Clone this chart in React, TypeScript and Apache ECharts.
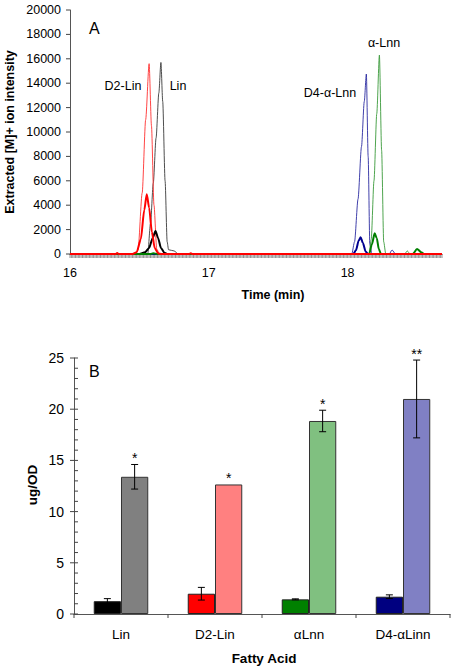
import React, { useEffect, useRef } from 'react';
import * as echarts from 'echarts';

// ---------- Panel A: extracted ion chromatograms (time in min, intensity) ----------
const timeRange = [16, 18.68];
const timeLabelStep = 1;
const timeMinorStep = 0.01;
const intensityMax = 20000;
const intensityStep = 2000;

const linThin = [
  [16, 0], [16.56, 0], [16.58, 2500], [16.6, 5800], [16.62, 9500], [16.64, 13200],
  [16.655, 15700], [16.668, 12500], [16.685, 6000], [16.7, 1000], [16.71, 350],
  [16.75, 250], [16.78, 0], [18.68, 0],
];
const d2LinThin = [
  [16, 0], [16.47, 0], [16.49, 300], [16.52, 5000], [16.545, 11000], [16.57, 15600],
  [16.587, 10500], [16.605, 4000], [16.625, 400], [16.645, 0], [18.68, 0],
];
const d4LnnThin = [
  [16, 0], [18.03, 0], [18.05, 1000], [18.075, 4500], [18.1, 8800], [18.12, 12500],
  [18.135, 14750], [18.148, 8000], [18.16, 800], [18.175, 0], [18.3, 0], [18.32, 330],
  [18.345, 0], [18.68, 0],
];
const lnnThin = [
  [16, 0], [18.155, 0], [18.17, 1200], [18.19, 6000], [18.21, 11500], [18.229, 16300],
  [18.245, 8500], [18.26, 1000], [18.275, 0], [18.41, 0], [18.43, 250], [18.45, 0], [18.68, 0],
];
const linThick = [
  [16, 0], [16.5, 0], [16.54, 150], [16.57, 500], [16.595, 1300], [16.616, 1880],
  [16.635, 1300], [16.655, 500], [16.68, 100], [16.7, 0], [18.68, 0],
];
const d4LnnThick = [
  [16, 0], [18.04, 0], [18.06, 300], [18.08, 1100], [18.094, 1370], [18.11, 900],
  [18.13, 200], [18.148, 0], [18.68, 0],
];
const lnnThick = [
  [16, 0], [16.58, 0], [16.6, 60], [16.63, 0], [18.155, 0], [18.175, 800], [18.195, 1700],
  [18.21, 1300], [18.225, 400], [18.24, 0], [18.47, 0], [18.5, 420], [18.53, 150],
  [18.55, 0], [18.68, 0],
];
const d2LinThick = [
  [16, 0], [16.33, 0], [16.34, 80], [16.35, 0], [16.45, 0], [16.48, 150], [16.51, 1200],
  [16.535, 3600], [16.553, 4900], [16.57, 3800], [16.59, 1800], [16.61, 500], [16.635, 50],
  [16.66, 0], [16.86, 0], [16.87, 70], [16.88, 0], [18.68, 0],
];

// ---------- Panel B: fatty acid amounts (ug/OD) ----------
const categories = ['Lin', 'D2-Lin', 'αLnn', 'D4-αLinn'];
const controlValues = [1.25, 1.98, 1.43, 1.69];
const controlErrors = [0.25, 0.62, 0.05, 0.18];
const treatedValues = [13.4, 12.65, 18.85, 21.0];
const treatedErrors = [1.2, 0, 1.05, 3.8];
const significance = ['*', '*', '*', '**'];
const controlColors = ['#000000', '#ff0000', '#008000', '#000080'];
const treatedColors = ['#808080', '#ff8080', '#80c080', '#8080c4'];
const amountMax = 25;
const amountLabelStep = 5;
const amountMinorStep = 1;

const FONT = 'Liberation Sans, Arial, sans-serif';
const BAR_FRACTION = 0.29;
const AXIS_COLOR = '#555';
const TICK_COLOR = '#444';

export default function App() {
  const ref = useRef<HTMLDivElement>(null);

  useEffect(() => {
    if (!ref.current) return;
    const chart = echarts.init(ref.current, undefined, { renderer: 'svg' });

    const lineSeries = (name: string, data: number[][], color: string, width: number) => ({
      type: 'line',
      name,
      xAxisIndex: 0,
      yAxisIndex: 0,
      data,
      symbol: 'none',
      smooth: 0.25,
      smoothMonotone: 'x',
      lineStyle: { color, width },
      silent: true,
    });

    const errorData = categories.flatMap((_, i) => [
      [i, controlValues[i], controlErrors[i], 0],
      [i, treatedValues[i], treatedErrors[i], 1],
    ]);

    const txt = (text: string, x: number, y: number, font: string, rotation = 0) => ({
      type: 'text',
      x,
      y,
      rotation,
      style: { text, font, fill: '#000', align: 'center', verticalAlign: 'middle' },
    });

    const tickLine = (x1: number, y1: number, x2: number, y2: number, w = 1) => ({
      type: 'line',
      shape: { x1, y1, x2, y2 },
      style: { stroke: TICK_COLOR, lineWidth: w },
      silent: true,
    });

    const option: any = {
      animation: false,
      backgroundColor: '#ffffff',
      textStyle: { fontFamily: FONT, color: '#000' },
      grid: [
        { left: 70, top: 10, width: 372, height: 244, containLabel: false, outerBoundsMode: 'none' },
        { left: 74, top: 358, width: 376, height: 256, containLabel: false, outerBoundsMode: 'none' },
      ],
      xAxis: [
        {
          type: 'value',
          gridIndex: 0,
          position: 'bottom',
          min: timeRange[0],
          max: timeRange[1],
          interval: timeLabelStep,
          axisLine: { lineStyle: { color: AXIS_COLOR, width: 1 } },
          axisTick: { show: false },
          axisLabel: { fontSize: 12.5, color: '#000', margin: 12, showMaxLabel: false },
          splitLine: { show: false },
        },
        {
          type: 'category',
          gridIndex: 1,
          data: categories,
          axisLine: { lineStyle: { color: AXIS_COLOR, width: 1 } },
          axisTick: { show: false },
          axisLabel: { fontSize: 13.5, color: '#000', margin: 13 },
        },
      ],
      yAxis: [
        {
          type: 'value',
          gridIndex: 0,
          min: 0,
          max: intensityMax,
          interval: intensityStep,
          axisLine: { show: true, lineStyle: { color: AXIS_COLOR, width: 1 } },
          axisTick: { show: false },
          axisLabel: { fontSize: 12.5, color: '#000', margin: 9, formatter: (v: number) => String(v) },
          splitLine: { show: false },
        },
        {
          type: 'value',
          gridIndex: 1,
          min: 0,
          max: amountMax,
          interval: amountLabelStep,
          axisLine: { show: true, lineStyle: { color: AXIS_COLOR, width: 1 } },
          axisTick: { show: false },
          axisLabel: { fontSize: 14, color: '#000', margin: 10 },
          splitLine: { show: false },
        },
      ],
      graphic: [
        { type: 'text', left: 89, top: 20, style: { text: 'A', font: `16px ${FONT}`, fill: '#000' } },
        { type: 'text', left: 89, top: 363, style: { text: 'B', font: `16px ${FONT}`, fill: '#000' } },
        txt('D2-Lin', 123, 86, `12.5px ${FONT}`),
        txt('Lin', 178, 86, `12.5px ${FONT}`),
        txt('D4-α-Lnn', 330, 93, `12.5px ${FONT}`),
        txt('α-Lnn', 384, 43, `12.5px ${FONT}`),
        txt('Time (min)', 273, 295, `bold 12.5px ${FONT}`),
        txt('Extracted [M]+ ion intensity', 10, 132, `bold 12.5px ${FONT}`, Math.PI / 2),
        txt('ug/OD', 32, 485, `bold 13.5px ${FONT}`, Math.PI / 2),
        txt('Fatty Acid', 264, 658, `bold 13.5px ${FONT}`),
      ],
      series: [
        lineSeries('Lin', linThin, '#3a3a3a', 0.9),
        lineSeries('D2-Lin', d2LinThin, '#ff3030', 0.9),
        lineSeries('D4-α-Lnn', d4LnnThin, '#2a2aa0', 0.9),
        lineSeries('α-Lnn', lnnThin, '#3a9a3a', 0.9),
        lineSeries('Lin (cells)', linThick, '#000000', 2),
        lineSeries('D4-α-Lnn (cells)', d4LnnThick, '#000090', 2),
        lineSeries('α-Lnn (cells)', lnnThick, '#008000', 2),
        lineSeries('D2-Lin (cells)', d2LinThick, '#ff0000', 2),
        // axis ticks of panel A, placed through the axes' own scales
        {
          type: 'custom',
          name: 'ticksA',
          xAxisIndex: 0,
          yAxisIndex: 0,
          silent: true,
          z: 1,
          data: [[timeRange[0], 0]],
          renderItem: (params: any, api: any) => {
            const children: any[] = [];
            const origin = api.coord([timeRange[0], 0]);
            const x0 = origin[0];
            const y0 = origin[1];
            const nMinor = Math.round((timeRange[1] - timeRange[0]) / timeMinorStep);
            for (let k = 0; k <= nMinor; k++) {
              const t = timeRange[0] + k * timeMinorStep;
              const x = api.coord([t, 0])[0];
              children.push(tickLine(x, y0, x, y0 + 4, 0.6));
            }
            for (let v = 0; v <= intensityMax; v += intensityStep) {
              const y = api.coord([timeRange[0], v])[1];
              children.push(tickLine(x0 - 4, y, x0, y));
            }
            return { type: 'group', children };
          },
        },
        {
          type: 'bar',
          name: 'control',
          xAxisIndex: 1,
          yAxisIndex: 1,
          barWidth: `${BAR_FRACTION * 100}%`,
          barGap: '0%',
          data: controlValues.map((v, i) => ({
            value: v,
            itemStyle: { color: controlColors[i], borderColor: '#222', borderWidth: 1 },
          })),
        },
        {
          type: 'bar',
          name: 'treated',
          xAxisIndex: 1,
          yAxisIndex: 1,
          barWidth: `${BAR_FRACTION * 100}%`,
          barGap: '0%',
          data: treatedValues.map((v, i) => ({
            value: v,
            itemStyle: { color: treatedColors[i], borderColor: '#333', borderWidth: 1 },
          })),
        },
        // axis ticks of panel B
        {
          type: 'custom',
          name: 'ticksB',
          xAxisIndex: 1,
          yAxisIndex: 1,
          silent: true,
          z: 1,
          data: [[0, 0]],
          renderItem: (params: any, api: any) => {
            const children: any[] = [];
            const band = api.size([1, 0])[0];
            const origin = api.coord([0, 0]);
            const left = origin[0] - band / 2;
            const y0 = origin[1];
            for (let v = 0; v <= amountMax; v += amountMinorStep) {
              const y = api.coord([0, v])[1];
              const major = v % amountLabelStep === 0;
              children.push(tickLine(major ? left - 4 : left, y, left + 4, y));
            }
            for (let i = 0; i <= categories.length; i++) {
              const x = left + i * band;
              children.push(tickLine(x, y0, x, y0 + 4));
            }
            return { type: 'group', children };
          },
        },
        {
          type: 'custom',
          name: 'errors',
          xAxisIndex: 1,
          yAxisIndex: 1,
          z: 10,
          data: errorData,
          renderItem: (params: any, api: any) => {
            const cat = api.value(0);
            const val = api.value(1);
            const err = api.value(2);
            const side = api.value(3);
            const band = api.size([1, 0])[0];
            const half = (band * BAR_FRACTION) / 2;
            const base = api.coord([cat, val]);
            const x = base[0] + (side === 0 ? -half : half);
            const top = api.coord([cat, val + err])[1];
            const bot = api.coord([cat, val - err])[1];
            const cap = 3.5;
            const st = { stroke: '#000', lineWidth: 1 };
            const children: any[] = [];
            if (err > 0) {
              children.push(
                { type: 'line', shape: { x1: x, y1: top, x2: x, y2: bot }, style: st },
                { type: 'line', shape: { x1: x - cap, y1: top, x2: x + cap, y2: top }, style: st },
                { type: 'line', shape: { x1: x - cap, y1: bot, x2: x + cap, y2: bot }, style: st },
              );
            }
            if (side === 1 && significance[cat]) {
              children.push({
                type: 'text',
                x,
                y: Math.min(top, base[1]) + 1,
                style: {
                  text: significance[cat],
                  font: `14px ${FONT}`,
                  fill: '#000',
                  align: 'center',
                  verticalAlign: 'bottom',
                },
              });
            }
            return { type: 'group', children };
          },
        },
      ],
    };

    chart.setOption(option);
    return () => chart.dispose();
  }, []);

  return (
    <div
      ref={ref}
      style={{ position: 'absolute', left: 0, top: 0, width: 455, height: 670, background: '#fff' }}
    />
  );
}
